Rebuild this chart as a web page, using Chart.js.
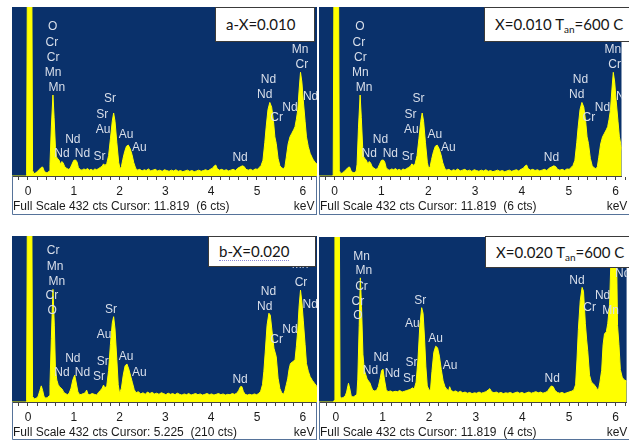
<!DOCTYPE html>
<html>
<head>
<meta charset="utf-8">
<script src="https://cdn.jsdelivr.net/npm/chart.js@4.4.1/dist/chart.umd.min.js"></script>
<style>
  body { margin: 0; width: 629px; height: 440px; overflow: hidden; position: relative; background: #fff; }
  canvas { position: absolute; display: block; }
  .tag {
    position: absolute; box-sizing: border-box; background: #fff; border: 1px solid #3a3a3a;
    font-family: Lato, "Open Sans", sans-serif; font-size: 15px; color: #151515;
    white-space: nowrap; padding-left: 10px; z-index: 2;
  }
  .tag sub { font-size: 10px; vertical-align: -3px; }
  .squig { border-bottom: 1px dotted #8a8ad8; }
</style>
</head>
<body>
<canvas id="pA" width="305" height="208" style="left:12px;top:7px"></canvas>
<canvas id="pA2" width="310" height="208" style="left:319px;top:7px"></canvas>
<canvas id="pB" width="305" height="204" style="left:12px;top:236px"></canvas>
<canvas id="pB2" width="310" height="203" style="left:319px;top:237px"></canvas>

<div class="tag" style="left:215px;top:7px;width:100px;height:35px;line-height:33px">a-X=0.010</div>
<div class="tag" style="left:484px;top:7px;width:160px;height:35px;line-height:33px">X=0.010 T<sub>an</sub>=600 C</div>
<div class="tag" style="left:208px;top:236px;width:108px;height:31px;line-height:29px"><span class="squig">b-X=0.020</span></div>
<div class="tag" style="left:485px;top:236px;width:160px;height:32px;line-height:30px">X=0.020 T<sub>an</sub>=600 C</div>

<script>
// energy axis (keV) and full scale (counts)
const keVLabels = [0, 1, 2, 3, 4, 5, 6];
const fullScale = 432;

// spectra as [keV, counts]
// x = 0.010 (same scan shown in both top panels)
const specA = [
  [-0.4,0],[-0.04,0],[-0.03,4],[-0.01,620],[0.08,620],[0.10,14],[0.13,6],[0.17,8],[0.21,12],[0.25,17],
  [0.29,22],[0.32,23],[0.35,14],[0.39,8],[0.43,9],[0.46,12],[0.48,30],[0.51,125],[0.545,207],[0.57,150],
  [0.60,72],[0.62,49],[0.65,44],[0.68,40],[0.71,30],[0.74,37],[0.77,33],[0.80,24],[0.84,20],[0.88,17],
  [0.92,19],[0.96,30],[1.00,40],[1.04,41],[1.07,36],[1.10,22],[1.14,16],[1.18,15],[1.22,18],[1.26,16],
  [1.30,19],[1.34,15],[1.38,17],[1.42,14],[1.46,18],[1.50,16],[1.54,19],[1.58,22],[1.62,25],[1.65,31],
  [1.68,27],[1.72,32],[1.76,52],[1.80,95],[1.84,140],[1.87,161],[1.90,140],[1.94,85],[1.98,35],[2.01,18],
  [2.04,24],[2.07,42],[2.11,62],[2.15,76],[2.19,79],[2.23,70],[2.27,55],[2.31,34],[2.35,20],[2.39,15],
  [2.44,17],[2.49,13],[2.54,16],[2.58,14],[2.63,18],[2.68,13],[2.73,15],[2.78,17],[2.83,13],[2.88,15],
  [2.93,12],[2.98,16],[3.03,14],[3.08,12],[3.13,15],[3.18,13],[3.23,16],[3.28,12],[3.33,14],[3.38,11],
  [3.43,13],[3.48,15],[3.53,12],[3.58,14],[3.63,11],[3.68,13],[3.73,15],[3.78,12],[3.83,14],[3.88,16],
  [3.93,13],[3.98,17],[4.03,20],[4.07,26],[4.10,28],[4.13,19],[4.18,15],[4.23,17],[4.28,14],[4.33,16],
  [4.38,13],[4.43,15],[4.48,17],[4.53,14],[4.58,20],[4.63,23],[4.68,26],[4.72,24],[4.76,17],[4.81,15],
  [4.86,17],[4.91,14],[4.96,18],[5.01,17],[5.05,22],[5.09,27],[5.13,40],[5.17,85],[5.20,125],[5.24,170],
  [5.28,188],[5.32,176],[5.36,140],[5.39,100],[5.42,83],[5.46,45],[5.50,26],[5.54,21],[5.58,18],[5.61,24],
  [5.64,48],[5.68,82],[5.72,100],[5.76,109],[5.80,118],[5.83,126],[5.86,145],[5.89,169],[5.92,220],[5.95,265],
  [5.98,240],[6.01,194],[6.05,140],[6.08,100],[6.12,75],[6.16,58],[6.20,48],[6.23,41],[6.27,35],[6.31,30],[6.4,28]
];
// x = 0.020
const specB = [
  [-0.4,0],[-0.04,0],[-0.03,4],[-0.01,620],[0.08,620],[0.10,14],[0.14,8],[0.18,10],[0.22,14],[0.26,30],
  [0.29,42],[0.32,30],[0.35,14],[0.39,10],[0.43,12],[0.46,16],[0.48,45],[0.51,165],[0.545,293],[0.575,200],
  [0.60,85],[0.63,57],[0.66,45],[0.69,40],[0.72,36],[0.75,33],[0.78,25],[0.82,22],[0.86,19],[0.90,23],
  [0.94,36],[0.98,58],[1.02,70],[1.05,52],[1.09,26],[1.13,19],[1.17,20],[1.21,22],[1.25,24],[1.28,31],
  [1.31,20],[1.35,19],[1.40,22],[1.45,20],[1.50,18],[1.54,25],[1.58,30],[1.62,36],[1.65,44],[1.68,36],
  [1.72,42],[1.76,82],[1.80,150],[1.84,205],[1.87,222],[1.90,190],[1.94,110],[1.97,45],[2.00,22],[2.04,36],
  [2.08,70],[2.12,94],[2.16,99],[2.20,86],[2.24,68],[2.28,50],[2.32,32],[2.36,24],[2.41,27],[2.46,21],
  [2.51,24],[2.56,20],[2.61,26],[2.66,22],[2.71,25],[2.76,21],[2.81,23],[2.86,20],[2.91,24],[2.96,22],
  [3.01,19],[3.06,23],[3.11,20],[3.16,22],[3.21,19],[3.26,23],[3.31,20],[3.36,18],[3.41,21],[3.46,19],
  [3.51,22],[3.56,18],[3.61,20],[3.66,22],[3.71,19],[3.76,21],[3.81,18],[3.86,20],[3.91,22],[3.96,19],
  [4.01,21],[4.06,18],[4.11,20],[4.16,22],[4.21,19],[4.26,21],[4.31,18],[4.36,20],[4.41,19],[4.46,22],
  [4.51,20],[4.56,23],[4.60,30],[4.64,40],[4.67,40],[4.70,28],[4.74,20],[4.79,18],[4.84,20],[4.89,18],
  [4.94,21],[4.99,19],[5.04,22],[5.08,28],[5.12,45],[5.15,80],[5.18,130],[5.22,200],[5.26,231],[5.29,226],
  [5.33,182],[5.37,140],[5.42,118],[5.46,62],[5.50,35],[5.54,24],[5.58,20],[5.61,30],[5.64,45],[5.67,60],
  [5.70,85],[5.73,100],[5.78,105],[5.83,109],[5.86,145],[5.89,187],[5.92,250],[5.95,291],[5.98,260],[6.01,213],
  [6.05,150],[6.08,100],[6.12,80],[6.16,66],[6.21,56],[6.26,48],[6.31,40],[6.4,38]
];
// x = 0.020, annealed 600 C
const specB2 = [
  [-0.4,0],[-0.05,0],[-0.04,4],[-0.02,620],[0.07,620],[0.09,15],[0.12,10],[0.16,12],[0.20,16],[0.23,26],
  [0.27,49],[0.30,34],[0.33,15],[0.37,13],[0.41,16],[0.45,20],[0.47,60],[0.50,200],[0.525,325],[0.55,250],
  [0.58,125],[0.61,83],[0.64,72],[0.67,60],[0.70,55],[0.73,50],[0.76,40],[0.79,31],[0.83,29],[0.87,30],
  [0.91,40],[0.95,62],[0.98,82],[1.01,86],[1.04,60],[1.08,32],[1.12,27],[1.17,29],[1.22,26],[1.27,28],
  [1.32,27],[1.37,30],[1.42,26],[1.47,28],[1.52,30],[1.57,32],[1.61,34],[1.64,37],[1.68,34],[1.72,52],
  [1.76,110],[1.80,200],[1.84,247],[1.87,232],[1.90,170],[1.93,92],[1.96,42],[2.00,31],[2.03,32],[2.06,80],
  [2.10,130],[2.14,146],[2.18,142],[2.22,120],[2.26,85],[2.30,55],[2.34,40],[2.38,33],[2.42,30],[2.44,40],
  [2.47,30],[2.52,27],[2.57,29],[2.62,25],[2.67,28],[2.72,24],[2.77,26],[2.82,23],[2.87,25],[2.92,22],
  [2.97,24],[3.02,23],[3.07,26],[3.12,23],[3.17,25],[3.22,27],[3.27,32],[3.30,35],[3.34,27],[3.39,24],
  [3.44,26],[3.49,23],[3.54,25],[3.59,22],[3.64,24],[3.69,23],[3.74,25],[3.79,22],[3.84,24],[3.89,26],
  [3.94,23],[3.99,25],[4.04,22],[4.09,24],[4.14,26],[4.19,23],[4.24,25],[4.29,27],[4.34,24],[4.39,26],
  [4.44,23],[4.49,25],[4.54,28],[4.58,36],[4.62,42],[4.66,40],[4.70,30],[4.75,25],[4.80,23],[4.85,25],
  [4.90,22],[4.95,24],[5.00,26],[5.05,28],[5.10,31],[5.14,45],[5.17,110],[5.20,190],[5.24,265],[5.28,300],
  [5.31,290],[5.35,205],[5.38,160],[5.40,135],[5.44,70],[5.48,52],[5.52,48],[5.56,42],[5.60,35],[5.63,31],
  [5.66,50],[5.70,83],[5.73,150],[5.76,178],[5.80,184],[5.83,205],[5.87,256],[5.90,380],[5.93,470],[6.01,470],
  [6.04,200],[6.07,150],[6.10,85],[6.14,65],[6.18,58],[6.23,55],[6.3,52]
];

// peak labels: [element, keV, counts]
const peaksA = [
  ["O",0.54,382],["Cr",0.52,340],["Cr",0.55,302],["Mn",0.55,263],["Mn",0.63,225],
  ["Nd",0.98,92],["Nd",0.74,56],["Nd",1.19,56],["Sr",1.56,49],["Sr",1.79,197],["Sr",1.62,156],
  ["Au",1.64,118],["Au",2.14,105],["Au",2.43,72],["Nd",4.63,46],["Nd",5.25,245],["Nd",5.17,207],
  ["Cr",5.43,148],["Nd",5.72,174],["Mn",5.94,322],["Cr",5.98,284],["Nd",6.17,204]
];
const peaksB = [
  ["Cr",0.55,393],["Mn",0.59,352],["Mn",0.63,313],["Cr",0.52,276],["O",0.53,237],
  ["Sr",1.81,239],["Au",1.66,174],["Nd",0.98,112],["Nd",0.74,76],["Nd",1.19,76],["Sr",1.63,105],
  ["Sr",1.55,66],["Au",2.14,118],["Au",2.43,75],["Nd",4.63,59],["Nd",5.25,287],["Nd",5.17,248],
  ["Nd",5.72,189],["Cr",5.43,163],["Cr",5.96,310],["Mn",5.94,358],["Nd",6.16,254]
];
const peaksB2 = [
  ["Mn",0.55,380],["Mn",0.60,343],["Cr",0.55,302],["Cr",0.47,263],["O",0.47,226],
  ["Sr",1.81,265],["Au",1.64,206],["Au",2.14,166],["Au",2.45,94],["Nd",0.97,115],["Nd",0.74,81],
  ["Nd",1.21,75],["Sr",1.62,103],["Sr",1.57,62],["Nd",4.64,60],["Cr",5.2,366],["Nd",5.17,317],
  ["Cr",5.44,248],["Nd",5.72,278],["Mn",5.89,239],["Nd",6.15,335]
];

// tick marks every 0.2 keV, labels only on whole keV
const minorTicks = [];
for (let i = -2; i <= 62; i += 2) minorTicks.push(i / 10);

const bgPlugin = {
  id: 'bg',
  beforeDraw(chart) {
    const { ctx, chartArea: a, width, height } = chart;
    ctx.save();
    ctx.fillStyle = '#fff';
    ctx.fillRect(0, 0, width, height);
    ctx.fillStyle = '#0a316b';
    ctx.fillRect(a.left, a.top, a.right - a.left, a.bottom - a.top);
    ctx.restore();
  }
};

function labelPlugin(peaks) {
  return {
    id: 'peaks',
    afterDatasetsDraw(chart) {
      const { ctx, chartArea: a, scales } = chart;
      ctx.save();
      ctx.beginPath();
      ctx.rect(a.left, a.top, a.right - a.left, a.bottom - a.top);
      ctx.clip();
      ctx.font = '12px "Liberation Sans", Arial, sans-serif';
      ctx.fillStyle = '#d9dfea';
      ctx.textAlign = 'center';
      ctx.textBaseline = 'middle';
      peaks.forEach(p => ctx.fillText(p[0], scales.x.getPixelForValue(p[1]), scales.y.getPixelForValue(p[2])));
      ctx.restore();
    }
  };
}

function footPlugin(text, rightBorder) {
  return {
    id: 'foot',
    afterDraw(chart) {
      const { ctx, chartArea: a, scales, width, height } = chart;
      ctx.save();
      ctx.font = '12px "Liberation Sans", Arial, sans-serif';
      ctx.fillStyle = '#1a1a1a';
      ctx.textBaseline = 'middle';
      ctx.textAlign = 'left';
      ctx.fillText(text, 1, a.bottom + 31);
      ctx.fillText('keV', scales.x.getPixelForValue(6) - 9, a.bottom + 31);
      ctx.strokeStyle = '#56739a';
      ctx.lineWidth = 1;
      ctx.beginPath();
      ctx.moveTo(0.5, a.bottom);
      ctx.lineTo(0.5, height - 0.5);
      ctx.lineTo(width, height - 0.5);
      if (rightBorder) {
        ctx.moveTo(width - 0.5, a.bottom);
        ctx.lineTo(width - 0.5, height);
      }
      ctx.stroke();
      ctx.restore();
    }
  };
}

function panel(id, spectrum, peaks, xMin, xMax, axisH, footer, rightBorder) {
  new Chart(document.getElementById(id), {
    type: 'line',
    data: {
      datasets: [{
        data: spectrum.map(p => ({ x: p[0], y: p[1] })),
        borderColor: '#ffff00',
        backgroundColor: '#ffff00',
        borderWidth: 1,
        fill: 'origin',
        pointRadius: 0,
        tension: 0,
        clip: 0
      }]
    },
    options: {
      responsive: false,
      animation: false,
      events: [],
      layout: { padding: 0 },
      plugins: { legend: { display: false }, tooltip: { enabled: false } },
      scales: {
        x: {
          type: 'linear', min: xMin, max: xMax,
          afterFit: s => { s.height = axisH; },
          afterBuildTicks: s => { s.ticks = minorTicks.map(v => ({ value: v })); },
          ticks: {
            autoSkip: false, maxRotation: 0, padding: 4, color: '#1a1a1a',
            font: { size: 12, family: '"Liberation Sans", Arial, sans-serif' },
            callback: v => keVLabels.includes(v) ? String(v) : ''
          },
          grid: { drawOnChartArea: false, tickLength: 4, color: '#444' },
          border: { color: '#444' }
        },
        y: { display: false, min: 0, max: fullScale }
      }
    },
    plugins: [bgPlugin, labelPlugin(peaks), footPlugin(footer, rightBorder)]
  });
}

panel('pA', specA, peaksA, -0.349, 6.31, 39, 'Full Scale 432 cts Cursor: 11.819  (6 cts)', true);
panel('pA2', specA, peaksA, -0.333, 6.125, 39, 'Full Scale 432 cts Cursor: 11.819  (6 cts)', false);
panel('pB', specB, peaksB, -0.349, 6.31, 38, 'Full Scale 432 cts Cursor: 5.225  (210 cts)', true);
panel('pB2', specB2, peaksB2, -0.362, 6.234, 38, 'Full Scale 432 cts Cursor: 11.819  (4 cts)', false);
</script>
</body>
</html>
